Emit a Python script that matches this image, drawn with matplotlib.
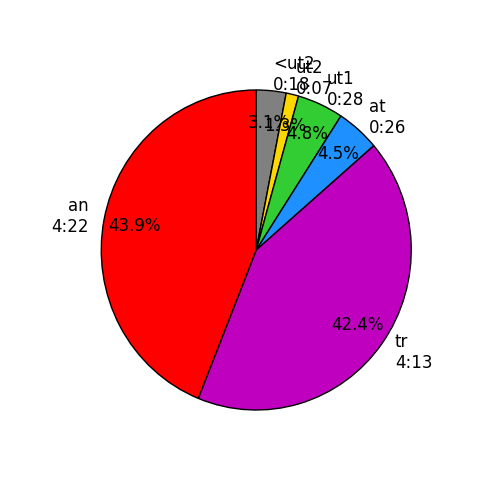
import matplotlib
matplotlib.use("Agg")
import matplotlib.pyplot as plt

labels = ["<ut2\n0:18", "ut2\n0:07", "ut1\n0:28", "at\n0:26", "tr\n4:13", "an\n4:22"]
values = [3.1, 1.3, 4.8, 4.5, 42.4, 43.9]
colors = ["grey", "gold", "limegreen", "dodgerblue", "m", "red"]

fig = plt.figure(figsize=(5, 5), dpi=100)
ax = fig.add_axes([0.125, 0.1, 0.775, 0.8])
wedges, texts, autotexts = ax.pie(values, labels=labels, colors=colors, autopct="%1.1f%%",
                                  startangle=90, counterclock=False, pctdistance=0.8,
                                  wedgeprops=dict(edgecolor="black", linewidth=1))
for t in texts + autotexts:
    t.set_fontsize(12)
ax.set_aspect("auto")
ax.set_xlim(-1.25, 1.25)
ax.set_ylim(-1.25, 1.25)
fig.savefig("out.png", dpi=100)
